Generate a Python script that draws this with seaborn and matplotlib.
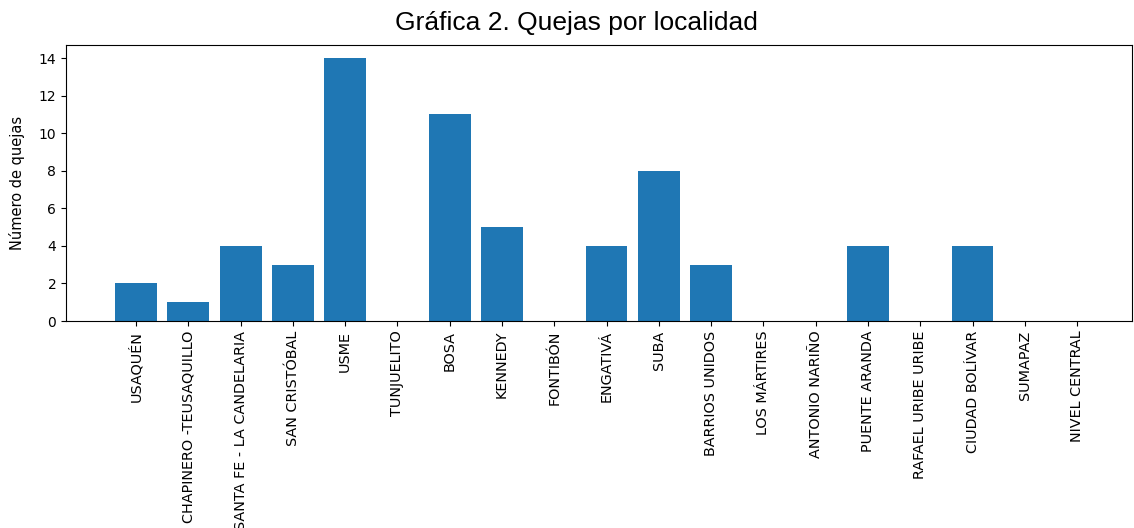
import pandas as pd
import matplotlib
matplotlib.use("Agg")
import matplotlib.pyplot as plt
import seaborn as sns

# Data
localidades = [
    "USAQUÉN", "CHAPINERO -TEUSAQUILLO", "SANTA FE - LA CANDELARIA",
    "SAN CRISTÓBAL", "USME", "TUNJUELITO", "BOSA", "KENNEDY", "FONTIBÓN",
    "ENGATIVÁ", "SUBA", "BARRIOS UNIDOS", "LOS MÁRTIRES", "ANTONIO NARIÑO",
    "PUENTE ARANDA", "RAFAEL URIBE URIBE", "CIUDAD BOLÍVAR", "SUMAPAZ",
    "NIVEL CENTRAL",
]
quejas = [2, 1, 4, 3, 14, 0, 11, 5, 0, 4, 8, 3, 0, 0, 4, 0, 4, 0, 0]
yticks = [0, 2, 4, 6, 8, 10, 12, 14]

df = pd.DataFrame({"localidad": localidades, "quejas": quejas})

plt.rcParams['font.family'] = ['DejaVu Sans']

fig = plt.figure(figsize=(11.34, 5.28), dpi=100)
ax = fig.add_axes([0.0582, 0.392, 0.94, 0.5228])

sns.barplot(data=df, x="localidad", y="quejas", color="#1f77b4",
            saturation=1, width=0.8, ax=ax)

ax.set_xlim(-1.34, len(localidades) - 1 + 1.05)
ax.set_ylim(0, 14.7)
ax.set_yticks(yticks)
ax.tick_params(axis='x', labelrotation=90, labelsize=10.4)
ax.tick_params(axis='y', labelsize=10)
ax.set_xlabel("")
ax.set_ylabel("Número de quejas", fontsize=10.5)
ax.yaxis.set_label_coords(-0.038, 0.5)

fig.text(576 / 1134, 1 - 23 / 528, "Gráfica 2. Quejas por localidad",
         ha='center', va='center', fontsize=19, family='Liberation Sans')

fig.savefig("out.png", dpi=100)
